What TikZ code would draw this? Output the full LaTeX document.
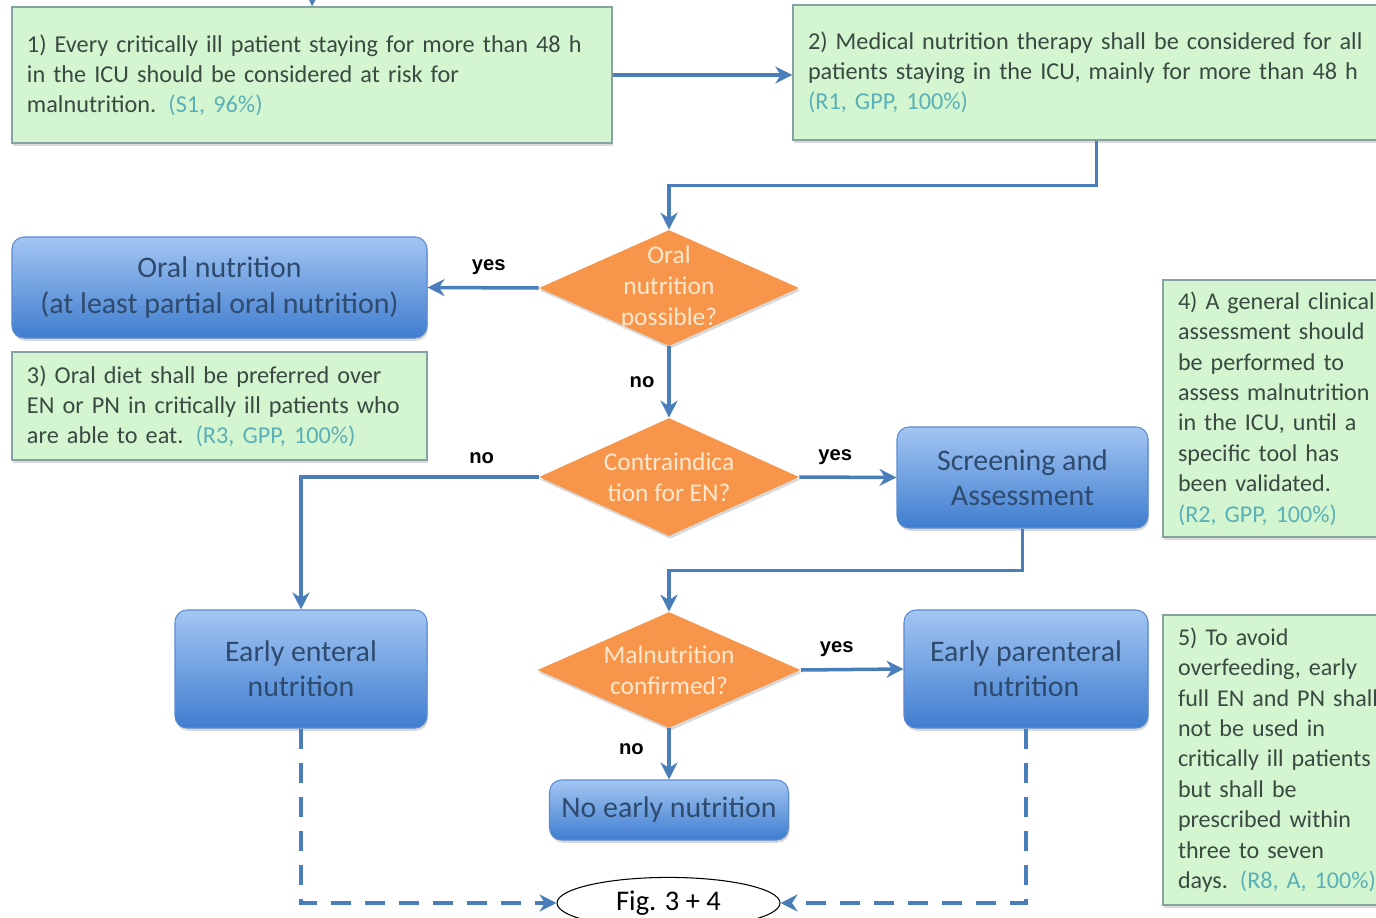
\documentclass[tikz,border=0pt]{standalone}
\usepackage{fontspec}
\setmainfont{Carlito}
\newfontfamily\lblfont{Liberation Sans}
\usetikzlibrary{positioning,arrows.meta,shapes.geometric,shadows}
\definecolor{gfill}{HTML}{D3F5CF}
\definecolor{gdraw}{HTML}{86A2A6}
\definecolor{gtext}{HTML}{3A4A42}
\definecolor{tagc}{HTML}{5BB0B8}
\definecolor{btop}{HTML}{A3C6F2}
\definecolor{bbot}{HTML}{3F7DCF}
\definecolor{bdraw}{HTML}{5B8BD0}
\definecolor{btext}{HTML}{2E4A6E}
\definecolor{ofill}{HTML}{F7964A}
\definecolor{otext}{HTML}{FDE8CF}
\definecolor{arrowc}{HTML}{4A7EBB}
\newcommand{\grade}[1]{{\color{tagc}#1}}

\begin{document}
\begin{tikzpicture}[
  x=0.2mm, y=-0.2mm,
  >={Stealth[length=3.4mm, width=3.4mm, inset=1.1mm]},
  shd/.style={drop shadow={opacity=0.3, shadow xshift=0.6pt, shadow yshift=-1.6pt}},
  gbx/.style={draw=gdraw, line width=0.8pt, fill=gfill, text=gtext, align=left,
              inner xsep=0.3cm, font=\fontsize{13.8}{17}\selectfont, shd},
  sbx/.style={gbx, font=\fontsize{13.7}{17.3}\selectfont},
  bbx/.style={rounded corners=0.24cm, draw=bdraw, line width=0.6pt, top color=btop,
              bottom color=bbot, text=btext, align=center,
              font=\fontsize{17}{20}\selectfont, shd},
  dec/.style={diamond, shape aspect=2.24, fill=ofill, text=otext, align=center,
              inner sep=-10pt, font=\fontsize{14.5}{17.6}\selectfont, shd},
  flow/.style={->, line width=2pt, draw=arrowc},
  dflow/.style={flow, dash pattern=on 4mm off 2.8mm},
  lbl/.style={font=\lblfont\bfseries\fontsize{11.5}{13}\selectfont, text=black},
]
\useasboundingbox (0,0) rectangle (1376,918);
\clip (0,0) rectangle (1376,918);

% ---- statements (green) ----
\node[gbx, minimum width=12cm, minimum height=2.72cm, text width=11.4cm] (b1) at (312,75)
  {1) Every critically ill patient staying for more than 48 h\\
   in the ICU should be considered at risk for\\
   malnutrition. \grade{(S1, 96\%)}};
\node[gbx, minimum width=12.14cm, minimum height=2.7cm, text width=11.54cm] (b2) at (1096.5,72.5)
  {2) Medical nutrition therapy shall be considered for all\\
   patients staying in the ICU, mainly for more than 48 h\\
   \grade{(R1, GPP, 100\%)}};
\node[gbx, minimum width=8.3cm, minimum height=2.16cm, text width=7.7cm] (b3) at (219.5,406)
  {3) Oral diet shall be preferred over\\
   EN or PN in critically ill patients who\\
   are able to eat. \grade{(R3, GPP, 100\%)}};
\node[sbx, minimum width=5.4cm, minimum height=5.14cm, text width=4.8cm] (b4) at (1298,408.5)
  {4) A general clinical\\ assessment should\\ be performed to\\ assess malnutrition\\
   in the ICU, until a\\ specific tool has\\ been validated.\\ \grade{(R2, GPP, 100\%)}};
\node[sbx, minimum width=5.4cm, minimum height=5.8cm, text width=4.8cm] (b5) at (1298,760)
  {5) To avoid\\ overfeeding, early\\ full EN and PN shall\\ not be used in\\
   critically ill patients\\ but shall be\\ prescribed within\\ three to seven\\
   days. \grade{(R8, A, 100\%)}};

% ---- decisions ----
\node[dec, minimum width=5.2cm, minimum height=2.32cm] (d1) at (669,288) {Oral\\ nutrition\\ possible?};
\node[dec, minimum width=5.2cm, minimum height=2.36cm] (d2) at (669,477) {Contraindica\\ tion for EN?};
\node[dec, minimum width=5.26cm, minimum height=2.32cm] (d3) at (669,670) {Malnutrition\\ confirmed?};

% ---- actions (blue) ----
\node[bbx, minimum width=8.3cm, minimum height=2.02cm] (oral) at (219.5,287.5)
  {Oral nutrition\\ (at least partial oral nutrition)};
\node[bbx, minimum width=5.02cm, minimum height=2.02cm] (scr) at (1022.5,477.5)
  {Screening and\\ Assessment};
\node[bbx, minimum width=5.04cm, minimum height=2.36cm] (ent) at (301,669)
  {Early enteral\\ nutrition};
\node[bbx, minimum width=4.88cm, minimum height=2.36cm] (par) at (1026,669)
  {Early parenteral\\ nutrition};
\node[bbx, minimum width=4.78cm, minimum height=1.2cm] (none) at (669,810)
  {No early nutrition};
\node[ellipse, draw=black, line width=0.6pt, fill=white, minimum width=4.46cm,
      minimum height=0.96cm, font=\fontsize{16.2}{18}\selectfont] (fig) at (668.5,903) {Fig. 3 + 4};

% ---- connectors ----
\coordinate (in) at (313,-20);
\draw[flow] (in) -- (b1.north);
\draw[flow] (b1.east) -- (b1.east -| b2.west);
\draw[flow] (b2.south) -- ++(0,45) -| (d1.north);
\draw[flow] (d1.west) -- node[lbl, above=3pt, pos=0.45]{yes} (oral.east);
\draw[flow] (d1.south) -- node[lbl, left=4pt]{no} (d2.north);
\draw[flow] (d2.east) -- node[lbl, above=3pt, pos=0.37]{yes} (scr.west);
\draw[flow] (d2.west) -| node[lbl, above=3pt, pos=0.12]{no} (ent.north);
\draw[flow] (scr.south) -- ++(0,42) -| (d3.north);
\draw[flow] (d3.east) -- node[lbl, above=3pt, pos=0.35]{yes} (par.west);
\draw[flow] (d3.south) -- node[lbl, left=10pt, pos=0.4]{no} (none.north);
\draw[dflow] (ent.south) |- (fig.west);
\draw[dflow] (par.south) |- (fig.east);
\end{tikzpicture}
\end{document}
